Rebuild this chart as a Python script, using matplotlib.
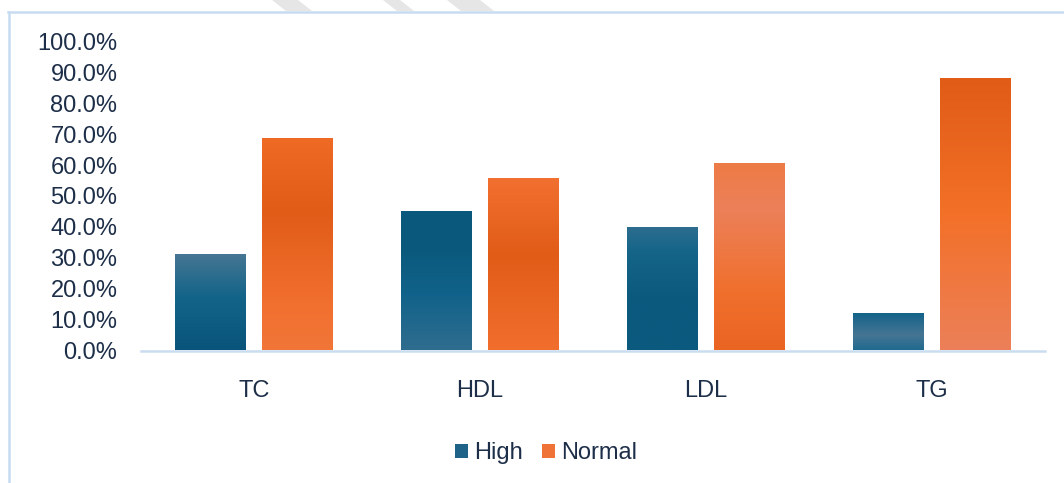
import matplotlib
matplotlib.use("Agg")
import matplotlib.pyplot as plt
import numpy as np
from matplotlib.colors import LinearSegmentedColormap
from matplotlib.patches import Rectangle, Polygon
from matplotlib.lines import Line2D
from matplotlib.ticker import FuncFormatter

categories = ["TC", "HDL", "LDL", "TG"]
high = [31.1, 45.3, 40.0, 12.1]
normal = [68.9, 55.7, 60.7, 88.2]
series_names = ["High", "Normal"]
yticks = [0, 10, 20, 30, 40, 50, 60, 70, 80, 90, 100]

# gradient stops per bar (position from top 0 -> bottom 1, colour)
high_grads = [
    [(0, "#477693"), (0.45, "#136489"), (1, "#09547a")],
    [(0, "#0a597d"), (0.3, "#0b5a7e"), (0.6, "#11628a"), (1, "#2f6d8f")],
    [(0, "#2e6d8f"), (0.2, "#156589"), (0.6, "#0b5a7e"), (1, "#0b5a7e")],
    [(0, "#10628a"), (0.6, "#467593"), (1, "#1f6a8f")],
]
normal_grads = [
    [(0, "#ef6a25"), (0.35, "#e05c17"), (0.8, "#f27030"), (1, "#f07638")],
    [(0, "#f27030"), (0.45, "#e05c17"), (1, "#f26e2d")],
    [(0, "#ee7b46"), (0.25, "#ec8059"), (0.7, "#f06f2c"), (1, "#ea6422")],
    [(0, "#e05c17"), (0.5, "#f37028"), (1, "#ec8059")],
]

W, H = 1064, 483
fig = plt.figure(figsize=(W / 100, H / 100), dpi=100)
ax = fig.add_axes([141 / W, 1 - 350.5 / H, (1045 - 141) / W, (350.5 - 41.5) / H])

text_color = "#1d2e48"
font = "Liberation Sans"
fs = 17

x = np.arange(len(categories))
bw = 0.314
off = 0.191

def grad_bar(xc, h, stops):
    rect = Rectangle((xc - bw / 2, 0), bw, h, facecolor="none", edgecolor="none")
    ax.add_patch(rect)
    cmap = LinearSegmentedColormap.from_list("g", stops)
    grad = np.linspace(0, 1, 256).reshape(-1, 1)
    im = ax.imshow(grad, cmap=cmap, aspect="auto", origin="upper",
                   extent=(xc - bw / 2, xc + bw / 2, 0, h), interpolation="bicubic")
    im.set_clip_path(rect)

for i in range(len(categories)):
    grad_bar(x[i] - off, high[i], high_grads[i])
    grad_bar(x[i] + off, normal[i], normal_grads[i])

ax.set_xlim(-0.5, len(categories) - 0.5)
ax.set_ylim(0, 100)
ax.set_yticks(yticks)
ax.yaxis.set_major_formatter(FuncFormatter(lambda v, p: f"{v:.1f}%"))
ax.set_xticks(x)
ax.set_xticklabels(categories)
for s in ["top", "right", "left"]:
    ax.spines[s].set_visible(False)
ax.spines["bottom"].set_color("#c9dcf0")
ax.spines["bottom"].set_linewidth(1.8)
ax.tick_params(axis="both", length=0, labelsize=fs, colors=text_color)
ax.tick_params(axis="y", pad=17)
ax.tick_params(axis="x", pad=21)
for lab in ax.get_xticklabels() + ax.get_yticklabels():
    lab.set_fontfamily(font)

handles = [Rectangle((0, 0), 1, 1, facecolor="#1f6388", edgecolor="none"),
           Rectangle((0, 0), 1, 1, facecolor="#ef7236", edgecolor="none")]
leg = fig.legend(handles, series_names, loc="center", bbox_to_anchor=(546 / W, 1 - 453 / H),
                 ncol=2, frameon=False, prop={"family": font, "size": fs},
                 handlelength=0.55, handleheight=0.55, handletextpad=0.25,
                 columnspacing=0.8, borderpad=0)
for t in leg.get_texts():
    t.set_color(text_color)

# chart border (top and left)
border = "#c8dcf1"
fig.add_artist(Line2D([8.5 / W, 8.5 / W], [0, 1 - 12 / H], color=border, lw=1.8,
                      transform=fig.transFigure))
fig.add_artist(Line2D([8 / W, 1], [1 - 12 / H, 1 - 12 / H], color=border, lw=1.8,
                      transform=fig.transFigure))

# faint watermark fragments at the top edge
for (x0, x1) in [(272, 298), (383, 400), (447, 480)]:
    pts = [(x0 / W, 1), (x1 / W, 1), ((x1 + 14) / W, 1 - 11 / H), ((x0 + 14) / W, 1 - 11 / H)]
    fig.add_artist(Polygon(pts, closed=True, facecolor="#e6e6e6", edgecolor="none",
                           transform=fig.transFigure))

fig.savefig("out.png", dpi=100)
